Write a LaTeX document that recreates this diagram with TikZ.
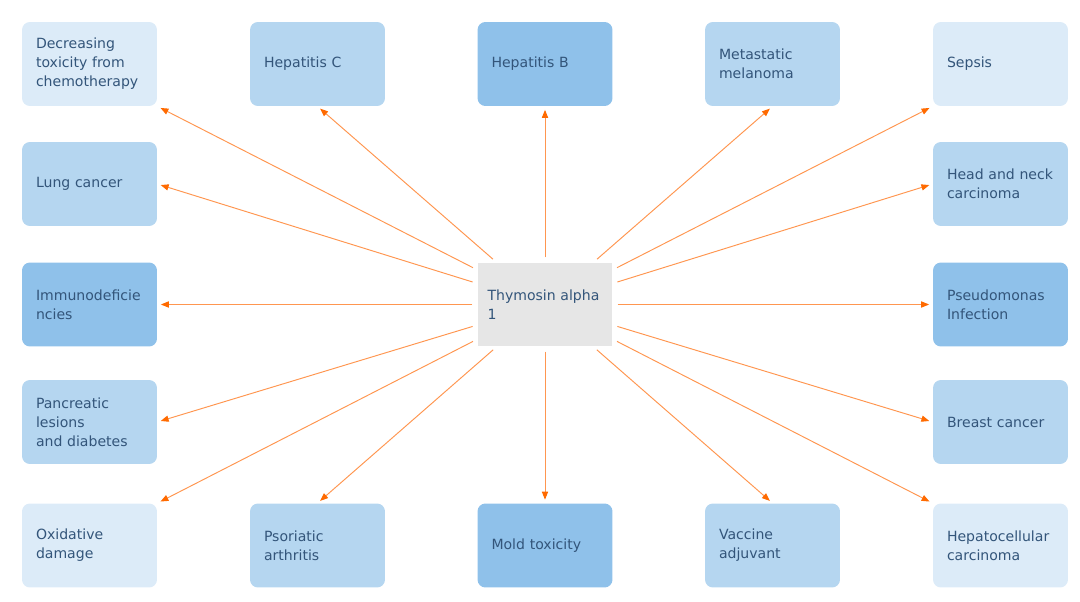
\documentclass[tikz,border=0pt]{standalone}
\usepackage{fontspec}
\setmainfont{DejaVu Sans}
\usetikzlibrary{arrows.meta}
\definecolor{boxpale}{HTML}{DCEBF8}
\definecolor{boxmid}{HTML}{B5D6F0}
\definecolor{boxdark}{HTML}{8FC1EA}
\definecolor{hubgray}{HTML}{E6E6E6}
\definecolor{textslate}{HTML}{33557A}
\definecolor{arroworange}{HTML}{FF9650}
\definecolor{tiporange}{HTML}{FF6A00}

\begin{document}
\begin{tikzpicture}[x=0.02cm, y=-0.02cm,
    item/.style={rounded corners=4.5pt, text width=2.14cm, inner xsep=0.28cm,
      minimum height=1.68cm, align=left, text=textslate,
      font=\fontsize{8}{10.8}\selectfont},
    pale/.style={item, fill=boxpale},
    mid/.style={item, fill=boxmid},
    dark/.style={item, fill=boxdark},
    link/.style={draw=arroworange, line width=0.55pt,
      -{Triangle[length=4.5pt, width=3.5pt, color=tiporange]},
      shorten <=3pt, shorten >=2pt}]
  \useasboundingbox (0,0) rectangle (1080,602);
  % Central node
  \node[fill=hubgray, text width=2.3cm, inner xsep=0.19cm, minimum height=1.66cm,
    align=left, text=textslate, font=\fontsize{8}{10.8}\selectfont]
    (thymosin) at (545,304.5) {Thymosin alpha\\1};
  % Top row
  \node[pale] (chemo) at (89.5,64) {Decreasing\\toxicity from\\chemotherapy};
  \node[mid] (hepc) at (317.5,64) {Hepatitis C};
  \node[dark] (hepb) at (545,64) {Hepatitis B};
  \node[mid] (melanoma) at (772.5,64) {Metastatic\\melanoma};
  \node[pale] (sepsis) at (1000.5,64) {Sepsis};
  % Second row
  \node[mid] (lung) at (89.5,184) {Lung cancer};
  \node[mid] (headneck) at (1000.5,184) {Head and neck\\carcinoma};
  % Middle row
  \node[dark] (immuno) at (89.5,304.5) {Immunodeficie\\ncies};
  \node[dark] (pseudo) at (1000.5,304.5) {Pseudomonas\\Infection};
  % Fourth row
  \node[mid] (pancreas) at (89.5,422) {Pancreatic\\lesions\\and diabetes};
  \node[mid] (breast) at (1000.5,422) {Breast cancer};
  % Bottom row
  \node[pale] (oxidative) at (89.5,545.5) {Oxidative\\damage};
  \node[mid] (psoriatic) at (317.5,545.5) {Psoriatic\\arthritis};
  \node[dark] (mold) at (545,545.5) {Mold toxicity};
  \node[mid] (vaccine) at (772.5,545.5) {Vaccine\\adjuvant};
  \node[pale] (hcc) at (1000.5,545.5) {Hepatocellular\\carcinoma};
  % Arrows out of the hub
  \draw[link] (thymosin) -- (chemo.south east);
  \draw[link] (thymosin) -- (hepc.south);
  \draw[link] (thymosin) -- (hepb.south);
  \draw[link] (thymosin) -- (melanoma.south);
  \draw[link] (thymosin) -- (sepsis.south west);
  \draw[link] (thymosin) -- (lung.east);
  \draw[link] (thymosin) -- (headneck.west);
  \draw[link] (thymosin) -- (immuno.east);
  \draw[link] (thymosin) -- (pseudo.west);
  \draw[link] (thymosin) -- (pancreas.east);
  \draw[link] (thymosin) -- (breast.west);
  \draw[link] (thymosin) -- (oxidative.north east);
  \draw[link] (thymosin) -- (psoriatic.north);
  \draw[link] (thymosin) -- (mold.north);
  \draw[link] (thymosin) -- (vaccine.north);
  \draw[link] (thymosin) -- (hcc.north west);
\end{tikzpicture}
\end{document}
